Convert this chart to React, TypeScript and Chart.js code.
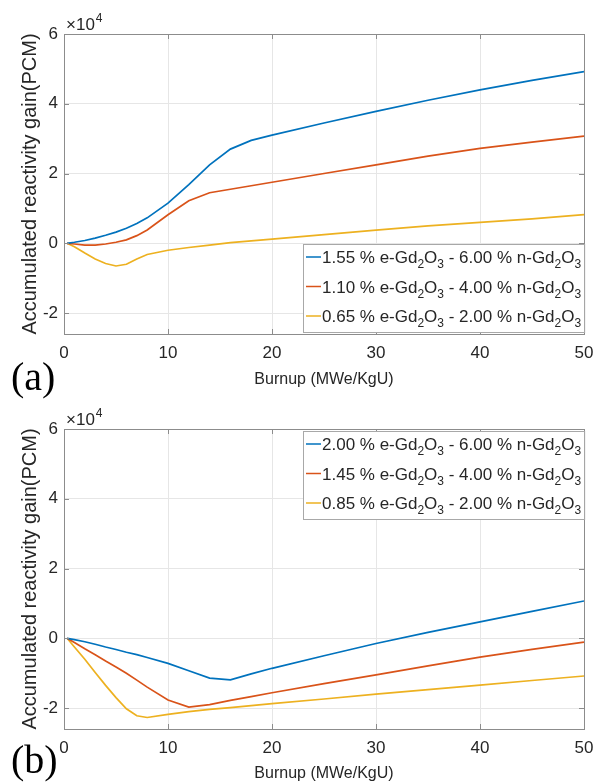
import React, { useEffect, useRef } from 'react';
import { Chart, registerables } from 'chart.js';
Chart.register(...registerables);

// Burnup steps (MWe/KgU)
const burnup = [0.3, 1, 2, 3, 4, 5, 6, 7, 8, 10, 12, 14, 16, 18, 20, 25, 30, 35, 40, 45, 50];

// Panel (a) accumulated reactivity gain (PCM)
const aBlue = [0, 300, 800, 1500, 2300, 3200, 4300, 5700, 7300, 11500, 16800, 22500, 27000, 29500, 31000, 34500, 37800, 41000, 44000, 46700, 49200];
const aRed = [0, -200, -500, -500, -200, 300, 1000, 2200, 3800, 8200, 12200, 14500, 15500, 16500, 17500, 20000, 22500, 25000, 27200, 29000, 30700];
const aYellow = [0, -1000, -2800, -4500, -5800, -6500, -6000, -4500, -3200, -2000, -1200, -500, 200, 700, 1200, 2500, 3800, 5000, 6000, 7000, 8200];

// Panel (b) accumulated reactivity gain (PCM)
const bBlue = [0, -400, -1000, -1700, -2500, -3200, -4000, -4700, -5500, -7200, -9300, -11400, -11900, -10200, -8600, -5000, -1500, 1700, 4700, 7700, 10700];
const bRed = [0, -1200, -3000, -4700, -6500, -8200, -10000, -12000, -14000, -17700, -19700, -19000, -17800, -16700, -15600, -13000, -10500, -7900, -5400, -3200, -1100];
const bYellow = [0, -2500, -6000, -9800, -13500, -17000, -20200, -22200, -22700, -21800, -21000, -20400, -19900, -19300, -18700, -17400, -16000, -14700, -13400, -12100, -10800];

const aLabels = [
  '1.55 % e-Gd_2O_3 - 6.00 % n-Gd_2O_3',
  '1.10 % e-Gd_2O_3 - 4.00 % n-Gd_2O_3',
  '0.65 % e-Gd_2O_3 - 2.00 % n-Gd_2O_3',
];
const bLabels = [
  '2.00 % e-Gd_2O_3 - 6.00 % n-Gd_2O_3',
  '1.45 % e-Gd_2O_3 - 4.00 % n-Gd_2O_3',
  '0.85 % e-Gd_2O_3 - 2.00 % n-Gd_2O_3',
];

const xTicks = [0, 10, 20, 30, 40, 50];
const yTicks = [-20000, 0, 20000, 40000, 60000];
const xTitle = 'Burnup (MWe/KgU)';
const yTitle = 'Accumulated reactivity gain(PCM)';
const colors = ['#0072BD', '#D95319', '#EDB120'];

const FONT = '"Liberation Sans", Arial, sans-serif';
const AXIS = '#8c8c8c';
const TEXT = '#262626';

function drawRich(ctx: CanvasRenderingContext2D, text: string, x: number, y: number, draw: boolean): number {
  let cx = x;
  let i = 0;
  let buf = '';
  const flush = () => {
    if (!buf) return;
    ctx.font = `17px ${FONT}`;
    if (draw) ctx.fillText(buf, cx, y);
    cx += ctx.measureText(buf).width;
    buf = '';
  };
  while (i < text.length) {
    const ch = text[i];
    if (ch === '_' && i + 1 < text.length) {
      flush();
      const s = text[i + 1];
      ctx.font = `12px ${FONT}`;
      if (draw) ctx.fillText(s, cx, y + 5);
      cx += ctx.measureText(s).width;
      i += 2;
    } else {
      buf += ch;
      i += 1;
    }
  }
  flush();
  return cx - x;
}

const matlabPlugin = {
  id: 'matlabDeco',
  afterDraw(chart: any, _args: any, opts: any) {
    const { ctx, chartArea: a, scales } = chart;
    ctx.save();
    // inner ticks
    ctx.strokeStyle = AXIS;
    ctx.lineWidth = 1;
    ctx.beginPath();
    for (const v of xTicks) {
      const px = Math.round(scales.x.getPixelForValue(v)) + 0.5;
      ctx.moveTo(px, a.bottom); ctx.lineTo(px, a.bottom - 5);
      ctx.moveTo(px, a.top); ctx.lineTo(px, a.top + 5);
    }
    for (const v of yTicks) {
      const py = Math.round(scales.y.getPixelForValue(v)) + 0.5;
      ctx.moveTo(a.left, py); ctx.lineTo(a.left + 5, py);
      ctx.moveTo(a.right, py); ctx.lineTo(a.right - 5, py);
    }
    ctx.stroke();
    // box
    ctx.strokeRect(Math.round(a.left) + 0.5, Math.round(a.top) + 0.5, Math.round(a.right - a.left), Math.round(a.bottom - a.top));

    // exponent label
    ctx.fillStyle = TEXT;
    ctx.textBaseline = 'alphabetic';
    ctx.textAlign = 'left';
    ctx.font = `17px ${FONT}`;
    const ex = a.left + 2;
    const ey = a.top - 4;
    ctx.fillText('\u00d710', ex, ey);
    const w = ctx.measureText('\u00d710').width;
    ctx.font = `12px ${FONT}`;
    ctx.fillText('4', ex + w + 1, ey - 8);

    // legend
    const items: string[] = opts.labels;
    const widths = items.map((l) => drawRich(ctx, l, 0, 0, false));
    const tw = Math.max(...widths);
    const bw = tw + 22;
    const bh = 88;
    const right = Math.round(a.right);
    const left = Math.round(right - bw);
    const top = opts.place === 'top' ? Math.round(a.top + 2) : Math.round(a.bottom - 2 - bh);
    ctx.fillStyle = '#ffffff';
    ctx.fillRect(left, top, bw, bh);
    ctx.strokeStyle = '#a8a8a8';
    ctx.lineWidth = 1;
    ctx.strokeRect(left + 0.5, top + 0.5, bw, bh);
    items.forEach((l, i) => {
      const cy = top + 13 + i * 29.5;
      ctx.strokeStyle = colors[i];
      ctx.lineWidth = 1.5;
      ctx.beginPath();
      ctx.moveTo(left + 3, cy);
      ctx.lineTo(left + 18, cy);
      ctx.stroke();
      ctx.fillStyle = TEXT;
      drawRich(ctx, l, left + 19, cy + 6, true);
    });
    ctx.restore();
  },
};

type PanelProps = {
  height: number;
  areaTop: number;
  areaBottom: number;
  series: number[][];
  labels: string[];
  place: 'top' | 'bottom';
  titlePad: number;
};

function Panel({ height, areaTop, areaBottom, series, labels, place, titlePad }: PanelProps) {
  const ref = useRef<HTMLCanvasElement | null>(null);
  useEffect(() => {
    if (!ref.current) return;
    const chart = new Chart(ref.current, {
      type: 'line',
      data: {
        datasets: series.map((s, i) => ({
          label: labels[i],
          data: burnup.map((x, j) => ({ x, y: s[j] })),
          borderColor: colors[i],
          backgroundColor: colors[i],
          borderWidth: 1.7,
          pointRadius: 0,
          tension: 0,
          fill: false,
        })),
      },
      options: {
        responsive: false,
        animation: false,
        events: [],
        layout: { padding: { left: 0, right: 11, top: areaTop, bottom: 0 } },
        plugins: {
          legend: { display: false },
          tooltip: { enabled: false },
          matlabDeco: { labels, place },
        } as any,
        scales: {
          x: {
            type: 'linear',
            min: 0,
            max: 50,
            afterBuildTicks: (s: any) => { s.ticks = xTicks.map((v) => ({ value: v })); },
            afterFit: (s: any) => { s.height = height - areaBottom; s.paddingLeft = 0; s.paddingRight = 0; },
            grid: { color: '#e6e6e6', drawTicks: false, lineWidth: 1 },
            border: { display: false },
            ticks: {
              padding: 9,
              autoSkip: false,
              maxRotation: 0,
              color: TEXT,
              font: { family: FONT, size: 17 },
              callback: (v: any) => String(v),
            },
            title: {
              display: true,
              text: xTitle,
              color: TEXT,
              font: { family: FONT, size: 16 },
              padding: { top: 0, bottom: titlePad },
            },
          },
          y: {
            type: 'linear',
            min: -26000,
            max: 60000,
            afterBuildTicks: (s: any) => { s.ticks = yTicks.map((v) => ({ value: v })); },
            afterFit: (s: any) => { s.width = 64; s.paddingTop = 0; s.paddingBottom = 0; },
            grid: { color: '#e6e6e6', drawTicks: false, lineWidth: 1 },
            border: { display: false },
            ticks: {
              padding: 6,
              color: TEXT,
              font: { family: FONT, size: 17 },
              callback: (v: any) => String(Number(v) / 10000),
            },
            title: {
              display: true,
              text: yTitle,
              color: TEXT,
              font: { family: FONT, size: 20 },
              padding: { top: 18, bottom: 0 },
            },
          },
        },
      },
      plugins: [matlabPlugin],
    } as any);
    return () => chart.destroy();
  }, []);
  return <canvas ref={ref} width={595} height={height} style={{ display: 'block', width: 595, height }} />;
}

export default function App() {
  return (
    <div style={{ position: 'absolute', left: 0, top: 0, width: 595, height: 783, background: '#fff', overflow: 'hidden' }}>
      <Panel height={392} areaTop={34} areaBottom={334} series={[aBlue, aRed, aYellow]} labels={aLabels} place="bottom" titlePad={3} />
      <Panel height={391} areaTop={37} areaBottom={337} series={[bBlue, bRed, bYellow]} labels={bLabels} place="top" titlePad={0} />
      <span style={{ position: 'absolute', left: 11, top: 357, font: '40px "Liberation Serif", serif', lineHeight: 1, color: '#000' }}>(a)</span>
      <span style={{ position: 'absolute', left: 11, top: 740, font: '40px "Liberation Serif", serif', lineHeight: 1, color: '#000' }}>(b)</span>
    </div>
  );
}
